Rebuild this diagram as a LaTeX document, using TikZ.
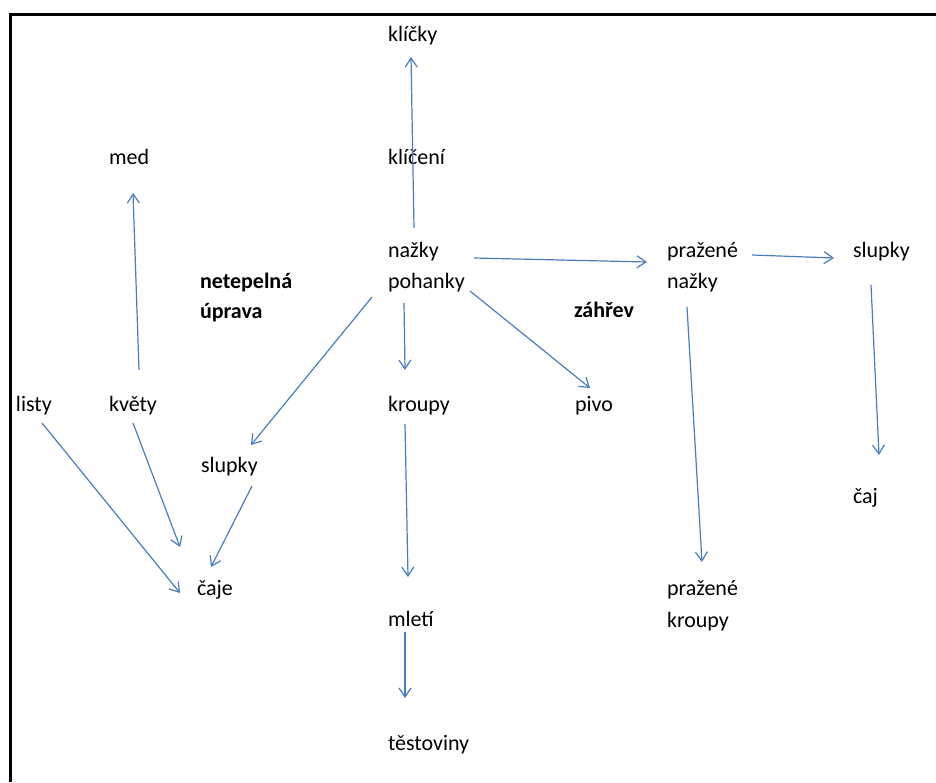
\documentclass[tikz,border=0pt]{standalone}
\usepackage{fontspec}
\setmainfont{Carlito}
\usetikzlibrary{arrows.meta}
\definecolor{arrowblue}{RGB}{74,126,187}
\begin{document}
\begin{tikzpicture}[x=1pt,y=-1pt,
  lbl/.style={anchor=base west,inner sep=0pt,outer sep=0pt,font=\fontsize{22}{26}\selectfont},
  hdr/.style={lbl,font=\fontsize{22}{26}\selectfont\bfseries},
  arr/.style={draw=arrowblue,line width=1.2pt,-{Straight Barb[length=9pt,width=12pt,line width=1.2pt]}}]
\useasboundingbox (0,0) rectangle (936,782);
% frame (left and top edges)
\draw[line width=3pt] (10.5,782) -- (10.5,14.7) -- (936,14.7);
% labels
\node[lbl] (klicky) at (388,41) {klíčky};
\node[lbl] (kliceni) at (388,164) {klíčení};
\node[lbl] (med) at (109,164) {med};
\node[lbl] (nazky) at (388,257) {nažky};
\node[lbl] (pohanky) at (388,288) {pohanky};
\node[hdr] (netepelna) at (200,288) {netepelná};
\node[hdr] (uprava) at (200,318) {úprava};
\node[lbl] (prazene) at (667,257) {pražené};
\node[lbl] (praznazky) at (667,288) {nažky};
\node[lbl] (slupkyR) at (853,257) {slupky};
\node[hdr] (zahrev) at (574,317) {záhřev};
\node[lbl] (listy) at (16,411) {listy};
\node[lbl] (kvety) at (109,411) {květy};
\node[lbl] (kroupy) at (388,411) {kroupy};
\node[lbl] (pivo) at (575,411) {pivo};
\node[lbl] (slupkyL) at (201,472) {slupky};
\node[lbl] (caj) at (853,503) {čaj};
\node[lbl] (caje) at (197,595) {čaje};
\node[lbl] (prazeneB) at (667,595) {pražené};
\node[lbl] (kroupyB) at (667,627) {kroupy};
\node[lbl] (mleti) at (388,626) {mletí};
\node[lbl] (testoviny) at (388,750) {těstoviny};
% connectors
\draw[arr] ([shift={(26,-29)}]nazky.base west) -- ([shift={(23,16)}]klicky.base west);
\draw[arr] ([shift={(30,-41)}]kvety.base west) -- ([shift={(24,29)}]med.base west);
\draw[arr] ([shift={(86,1)}]nazky.base west) -- ([shift={(-20,5)}]prazene.base west);
\draw[arr] ([shift={(85,-2)}]prazene.base west) -- ([shift={(-19,1)}]slupkyR.base west);
\draw[arr] ([shift={(18,28)}]slupkyR.base west) -- ([shift={(26,-48)}]caj.base west);
\draw[arr] ([shift={(20,19)}]praznazky.base west) -- ([shift={(35,-33)}]prazeneB.base west);
\draw[arr] ([shift={(-16,9)}]pohanky.base west) -- ([shift={(50,-27)}]slupkyL.base west);
\draw[arr] ([shift={(16,15)}]pohanky.base west) -- ([shift={(17,-41)}]kroupy.base west);
\draw[arr] ([shift={(82,3)}]pohanky.base west) -- ([shift={(15,-23)}]pivo.base west);
\draw[arr] ([shift={(26,12)}]listy.base west) -- ([shift={(-17,-2)}]caje.base west);
\draw[arr] ([shift={(24,12)}]kvety.base west) -- ([shift={(-17,-48)}]caje.base west);
\draw[arr] ([shift={(51,14)}]slupkyL.base west) -- ([shift={(14,-28)}]caje.base west);
\draw[arr] ([shift={(17,13)}]kroupy.base west) -- ([shift={(20,-49)}]mleti.base west);
\draw[arr] ([shift={(17,6)}]mleti.base west) -- ([shift={(17,-52)}]testoviny.base west);
\end{tikzpicture}
\end{document}
